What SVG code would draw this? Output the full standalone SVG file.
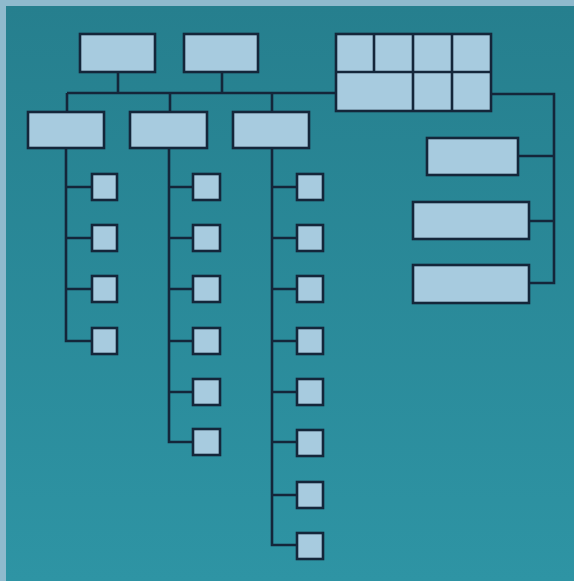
<svg xmlns="http://www.w3.org/2000/svg" width="574" height="581" viewBox="0 0 574 581">
<defs>
<linearGradient id="bg" x1="0" y1="0" x2="0" y2="1">
<stop offset="0" stop-color="#267f8e"/>
<stop offset="1" stop-color="#2e94a4"/>
</linearGradient>
<style>
.box{fill:#a7cbdf;stroke:#14263a;stroke-width:2.6}
.ln{fill:none;stroke:#14263a;stroke-width:2.6;stroke-linejoin:miter}
</style>
</defs>
<rect x="0" y="0" width="574" height="581" fill="#8fbacd"/>
<rect x="6" y="6" width="568" height="575" fill="url(#bg)"/>
<g id="connectors" class="ln">
<path d="M118 72V93M222 72V93M67 93H336M67 93V112M170 93V112M272 93V112"/>
<path d="M491 94H554V283H529M518 156H554M529 221H554"/>
<path d="M66 148V341H92M66 187H92M66 238H92M66 289H92"/>
<path d="M169 148V442H193M169 187H193M169 238H193M169 289H193M169 341H193M169 392H193"/>
<path d="M272 148V545H297M272 187H297M272 238H297M272 289H297M272 341H297M272 392H297M272 442H297M272 495H297"/>
</g>
<g id="top1"><rect class="box" x="80" y="34" width="75" height="38"/></g>
<g id="top2"><rect class="box" x="184" y="34" width="74" height="38"/></g>
<g id="grid">
<rect class="box" x="336" y="34" width="155" height="77"/>
<path class="ln" d="M336 72H491M374 34V72M413 34V111M452 34V111"/>
</g>
<g id="mid1"><rect class="box" x="28" y="112" width="76" height="36"/></g>
<g id="mid2"><rect class="box" x="130" y="112" width="77" height="36"/></g>
<g id="mid3"><rect class="box" x="233" y="112" width="76" height="36"/></g>
<g id="r1"><rect class="box" x="427" y="138" width="91" height="37"/></g>
<g id="r2"><rect class="box" x="413" y="202" width="116" height="37"/></g>
<g id="r3"><rect class="box" x="413" y="265" width="116" height="38"/></g>
<g id="c1">
<rect class="box" x="92" y="174" width="25" height="26"/>
<rect class="box" x="92" y="225" width="25" height="26"/>
<rect class="box" x="92" y="276" width="25" height="26"/>
<rect class="box" x="92" y="328" width="25" height="26"/>
</g>
<g id="c2">
<rect class="box" x="193" y="174" width="27" height="26"/>
<rect class="box" x="193" y="225" width="27" height="26"/>
<rect class="box" x="193" y="276" width="27" height="26"/>
<rect class="box" x="193" y="328" width="27" height="26"/>
<rect class="box" x="193" y="379" width="27" height="26"/>
<rect class="box" x="193" y="429" width="27" height="26"/>
</g>
<g id="c3">
<rect class="box" x="297" y="174" width="26" height="26"/>
<rect class="box" x="297" y="225" width="26" height="26"/>
<rect class="box" x="297" y="276" width="26" height="26"/>
<rect class="box" x="297" y="328" width="26" height="26"/>
<rect class="box" x="297" y="379" width="26" height="26"/>
<rect class="box" x="297" y="430" width="26" height="26"/>
<rect class="box" x="297" y="482" width="26" height="26"/>
<rect class="box" x="297" y="533" width="26" height="26"/>
</g>
</svg>
